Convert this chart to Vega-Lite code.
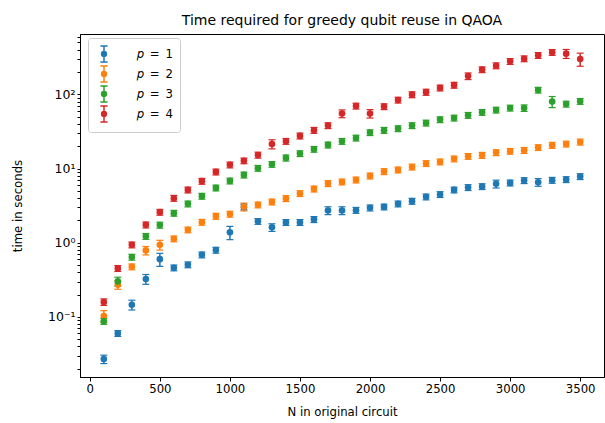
{
"$schema":"https://vega.github.io/schema/vega-lite/v6.json",
"width":524,"height":343,
"autosize":{"type":"none"},
"padding":{"left":80,"top":34,"right":1,"bottom":46},
"title":{"text":"Time required for greedy qubit reuse in QAOA","fontSize":14,"font":"DejaVu Sans","fontWeight":"normal","offset":6,"color":"black"},
"config":{"view":{"stroke":"black","strokeWidth":1},
"axis":{"domainColor":"black","tickColor":"black","labelColor":"black","titleColor":"black","labelFont":"DejaVu Sans","titleFont":"DejaVu Sans","labelFontSize":11.7,"titleFontSize":11.7,"titleFontWeight":"normal","grid":false,"tickSize":4,"tickWidth":1,"domainWidth":1}},
"data":{"values":[
{"N":100,"p":1,"t":0.027,"lo":0.0235,"hi":0.0305},
{"N":200,"p":1,"t":0.060,"lo":0.0546,"hi":0.0654},
{"N":300,"p":1,"t":0.146,"lo":0.124,"hi":0.168},
{"N":400,"p":1,"t":0.324,"lo":0.275,"hi":0.373},
{"N":500,"p":1,"t":0.60,"lo":0.48,"hi":0.72},
{"N":600,"p":1,"t":0.459,"lo":0.418,"hi":0.500},
{"N":700,"p":1,"t":0.505,"lo":0.460,"hi":0.550},
{"N":800,"p":1,"t":0.687,"lo":0.625,"hi":0.749},
{"N":900,"p":1,"t":0.795,"lo":0.723,"hi":0.867},
{"N":1000,"p":1,"t":1.38,"lo":1.10,"hi":1.66},
{"N":1100,"p":1,"t":3.04,"lo":2.77,"hi":3.31},
{"N":1200,"p":1,"t":1.94,"lo":1.77,"hi":2.11},
{"N":1300,"p":1,"t":1.61,"lo":1.42,"hi":1.80},
{"N":1400,"p":1,"t":1.88,"lo":1.71,"hi":2.05},
{"N":1500,"p":1,"t":1.88,"lo":1.71,"hi":2.05},
{"N":1600,"p":1,"t":2.06,"lo":1.87,"hi":2.25},
{"N":1700,"p":1,"t":2.72,"lo":2.39,"hi":3.05},
{"N":1800,"p":1,"t":2.72,"lo":2.39,"hi":3.05},
{"N":1900,"p":1,"t":2.74,"lo":2.49,"hi":2.99},
{"N":2000,"p":1,"t":2.95,"lo":2.68,"hi":3.22},
{"N":2100,"p":1,"t":3.04,"lo":2.77,"hi":3.31},
{"N":2200,"p":1,"t":3.34,"lo":3.04,"hi":3.64},
{"N":2300,"p":1,"t":3.63,"lo":3.30,"hi":3.96},
{"N":2400,"p":1,"t":4.15,"lo":3.78,"hi":4.52},
{"N":2500,"p":1,"t":4.47,"lo":4.07,"hi":4.87},
{"N":2600,"p":1,"t":5.15,"lo":4.69,"hi":5.61},
{"N":2700,"p":1,"t":5.55,"lo":5.05,"hi":6.05},
{"N":2800,"p":1,"t":5.72,"lo":5.21,"hi":6.23},
{"N":2900,"p":1,"t":6.21,"lo":5.46,"hi":6.96},
{"N":3000,"p":1,"t":6.40,"lo":5.82,"hi":6.98},
{"N":3100,"p":1,"t":6.89,"lo":6.27,"hi":7.51},
{"N":3200,"p":1,"t":6.54,"lo":5.76,"hi":7.32},
{"N":3300,"p":1,"t":6.96,"lo":6.33,"hi":7.59},
{"N":3400,"p":1,"t":7.11,"lo":6.47,"hi":7.75},
{"N":3500,"p":1,"t":7.80,"lo":7.10,"hi":8.50},
{"N":100,"p":2,"t":0.103,"lo":0.0845,"hi":0.1215},
{"N":200,"p":2,"t":0.271,"lo":0.236,"hi":0.306},
{"N":300,"p":2,"t":0.474,"lo":0.431,"hi":0.517},
{"N":400,"p":2,"t":0.787,"lo":0.685,"hi":0.889},
{"N":500,"p":2,"t":0.937,"lo":0.796,"hi":1.078},
{"N":600,"p":2,"t":1.13,"lo":1.03,"hi":1.23},
{"N":700,"p":2,"t":1.49,"lo":1.36,"hi":1.62},
{"N":800,"p":2,"t":1.89,"lo":1.72,"hi":2.06},
{"N":900,"p":2,"t":2.28,"lo":2.07,"hi":2.49},
{"N":1000,"p":2,"t":2.43,"lo":2.21,"hi":2.65},
{"N":1100,"p":2,"t":3.05,"lo":2.68,"hi":3.42},
{"N":1200,"p":2,"t":3.24,"lo":2.95,"hi":3.53},
{"N":1300,"p":2,"t":3.55,"lo":3.23,"hi":3.87},
{"N":1400,"p":2,"t":3.95,"lo":3.59,"hi":4.31},
{"N":1500,"p":2,"t":4.61,"lo":4.20,"hi":5.02},
{"N":1600,"p":2,"t":5.31,"lo":4.83,"hi":5.79},
{"N":1700,"p":2,"t":6.28,"lo":5.71,"hi":6.85},
{"N":1800,"p":2,"t":6.60,"lo":6.01,"hi":7.19},
{"N":1900,"p":2,"t":7.02,"lo":6.39,"hi":7.65},
{"N":2000,"p":2,"t":7.95,"lo":7.23,"hi":8.67},
{"N":2100,"p":2,"t":9.11,"lo":8.29,"hi":9.93},
{"N":2200,"p":2,"t":9.58,"lo":8.72,"hi":10.44},
{"N":2300,"p":2,"t":10.5,"lo":9.56,"hi":11.45},
{"N":2400,"p":2,"t":11.7,"lo":10.65,"hi":12.75},
{"N":2500,"p":2,"t":12.3,"lo":11.2,"hi":13.4},
{"N":2600,"p":2,"t":13.5,"lo":12.3,"hi":14.7},
{"N":2700,"p":2,"t":14.6,"lo":13.3,"hi":15.9},
{"N":2800,"p":2,"t":15.1,"lo":13.7,"hi":16.5},
{"N":2900,"p":2,"t":16.4,"lo":14.9,"hi":17.9},
{"N":3000,"p":2,"t":17.1,"lo":15.6,"hi":18.6},
{"N":3100,"p":2,"t":17.6,"lo":16.0,"hi":19.2},
{"N":3200,"p":2,"t":19.2,"lo":17.5,"hi":20.9},
{"N":3300,"p":2,"t":20.6,"lo":18.7,"hi":22.5},
{"N":3400,"p":2,"t":21.4,"lo":19.5,"hi":23.3},
{"N":3500,"p":2,"t":22.8,"lo":20.7,"hi":24.9},
{"N":100,"p":3,"t":0.0873,"lo":0.0794,"hi":0.0952},
{"N":200,"p":3,"t":0.301,"lo":0.259,"hi":0.343},
{"N":300,"p":3,"t":0.640,"lo":0.582,"hi":0.698},
{"N":400,"p":3,"t":1.22,"lo":1.11,"hi":1.33},
{"N":500,"p":3,"t":1.73,"lo":1.57,"hi":1.89},
{"N":600,"p":3,"t":2.50,"lo":2.28,"hi":2.73},
{"N":700,"p":3,"t":3.34,"lo":3.04,"hi":3.64},
{"N":800,"p":3,"t":4.24,"lo":3.86,"hi":4.62},
{"N":900,"p":3,"t":5.48,"lo":4.99,"hi":5.97},
{"N":1000,"p":3,"t":6.81,"lo":6.20,"hi":7.42},
{"N":1100,"p":3,"t":8.20,"lo":7.46,"hi":8.94},
{"N":1200,"p":3,"t":10.1,"lo":9.19,"hi":11.0},
{"N":1300,"p":3,"t":11.4,"lo":10.4,"hi":12.4},
{"N":1400,"p":3,"t":13.9,"lo":12.6,"hi":15.2},
{"N":1500,"p":3,"t":15.9,"lo":14.5,"hi":17.3},
{"N":1600,"p":3,"t":18.2,"lo":16.6,"hi":19.8},
{"N":1700,"p":3,"t":20.8,"lo":18.9,"hi":22.7},
{"N":1800,"p":3,"t":23.3,"lo":21.2,"hi":25.4},
{"N":1900,"p":3,"t":25.8,"lo":23.5,"hi":28.1},
{"N":2000,"p":3,"t":30.5,"lo":27.8,"hi":33.2},
{"N":2100,"p":3,"t":32.8,"lo":29.8,"hi":35.8},
{"N":2200,"p":3,"t":34.5,"lo":31.4,"hi":37.6},
{"N":2300,"p":3,"t":37.9,"lo":34.5,"hi":41.3},
{"N":2400,"p":3,"t":41.1,"lo":37.4,"hi":44.8},
{"N":2500,"p":3,"t":45.6,"lo":41.5,"hi":49.7},
{"N":2600,"p":3,"t":48.0,"lo":43.7,"hi":52.3},
{"N":2700,"p":3,"t":52.2,"lo":47.5,"hi":56.9},
{"N":2800,"p":3,"t":57.2,"lo":52.1,"hi":62.3},
{"N":2900,"p":3,"t":61.5,"lo":56.0,"hi":67.0},
{"N":3000,"p":3,"t":65.4,"lo":59.5,"hi":71.3},
{"N":3100,"p":3,"t":65.4,"lo":58.9,"hi":71.9},
{"N":3200,"p":3,"t":114,"lo":104,"hi":124},
{"N":3300,"p":3,"t":79.8,"lo":66.2,"hi":93.4},
{"N":3400,"p":3,"t":74.0,"lo":67.3,"hi":80.7},
{"N":3500,"p":3,"t":80.5,"lo":73.3,"hi":87.7},
{"N":100,"p":4,"t":0.159,"lo":0.143,"hi":0.175},
{"N":200,"p":4,"t":0.451,"lo":0.410,"hi":0.492},
{"N":300,"p":4,"t":0.937,"lo":0.853,"hi":1.021},
{"N":400,"p":4,"t":1.74,"lo":1.58,"hi":1.90},
{"N":500,"p":4,"t":2.58,"lo":2.35,"hi":2.81},
{"N":600,"p":4,"t":3.98,"lo":3.62,"hi":4.34},
{"N":700,"p":4,"t":5.15,"lo":4.69,"hi":5.61},
{"N":800,"p":4,"t":6.75,"lo":6.14,"hi":7.36},
{"N":900,"p":4,"t":9.00,"lo":8.19,"hi":9.81},
{"N":1000,"p":4,"t":11.2,"lo":10.2,"hi":12.2},
{"N":1100,"p":4,"t":12.7,"lo":11.6,"hi":13.8},
{"N":1200,"p":4,"t":15.2,"lo":13.8,"hi":16.6},
{"N":1300,"p":4,"t":21.4,"lo":18.4,"hi":24.4},
{"N":1400,"p":4,"t":23.3,"lo":21.2,"hi":25.4},
{"N":1500,"p":4,"t":27.5,"lo":25.0,"hi":30.0},
{"N":1600,"p":4,"t":32.8,"lo":29.8,"hi":35.8},
{"N":1700,"p":4,"t":37.9,"lo":34.5,"hi":41.3},
{"N":1800,"p":4,"t":55.0,"lo":48.4,"hi":61.6},
{"N":1900,"p":4,"t":69.6,"lo":63.3,"hi":75.9},
{"N":2000,"p":4,"t":55.0,"lo":47.9,"hi":62.2},
{"N":2100,"p":4,"t":68.3,"lo":62.2,"hi":74.4},
{"N":2200,"p":4,"t":83.8,"lo":76.3,"hi":91.3},
{"N":2300,"p":4,"t":99,"lo":90,"hi":108},
{"N":2400,"p":4,"t":107,"lo":97,"hi":117},
{"N":2500,"p":4,"t":122,"lo":111,"hi":133},
{"N":2600,"p":4,"t":133,"lo":121,"hi":145},
{"N":2700,"p":4,"t":176,"lo":158,"hi":194},
{"N":2800,"p":4,"t":215,"lo":196,"hi":234},
{"N":2900,"p":4,"t":243,"lo":221,"hi":265},
{"N":3000,"p":4,"t":278,"lo":253,"hi":303},
{"N":3100,"p":4,"t":302,"lo":275,"hi":329},
{"N":3200,"p":4,"t":335,"lo":305,"hi":365},
{"N":3300,"p":4,"t":368,"lo":335,"hi":401},
{"N":3400,"p":4,"t":353,"lo":304,"hi":402},
{"N":3500,"p":4,"t":299,"lo":239,"hi":359}
]},
"encoding":{
"x":{"field":"N","type":"quantitative","title":"N in original circuit","scale":{"domain":[-70,3670],"nice":false,"zero":false},"axis":{"values":[0,500,1000,1500,2000,2500,3000,3500],"format":"d","labelPadding":2,"titlePadding":12}}
},
"layer":[
{"mark":{"type":"rule","strokeWidth":1.5},
"encoding":{
"y":{"field":"lo","type":"quantitative","title":"time in seconds","scale":{"type":"log","domain":[0.0155,650],"nice":false},
"axis":{"values":[0.02,0.03,0.04,0.05,0.06,0.07,0.08,0.09,0.1,0.2,0.3,0.4,0.5,0.6,0.7,0.8,0.9,1,2,3,4,5,6,7,8,9,10,20,30,40,50,60,70,80,90,100,200,300,400,500,600],
"labelExpr":"datum.value==100?'10²':datum.value==10?'10¹':datum.value==1?'10⁰':datum.value==0.1?'10⁻¹':''",
"tickSize":3,"labelPadding":2,"titlePadding":24,"labelFontSize":12.5}},
"y2":{"field":"hi"},
"color":{"field":"p","type":"nominal","scale":{"domain":[1,2,3,4],"range":["#1f77b4","#ff7f0e","#2ca02c","#d62728"]}}}},
{"mark":{"type":"tick","orient":"horizontal","size":7,"thickness":1.2,"opacity":1},
"encoding":{"y":{"field":"lo","type":"quantitative","title":"time in seconds"},"color":{"field":"p","type":"nominal"}}},
{"mark":{"type":"tick","orient":"horizontal","size":7,"thickness":1.2,"opacity":1},
"encoding":{"y":{"field":"hi","type":"quantitative","title":"time in seconds"},"color":{"field":"p","type":"nominal"}}},
{"mark":{"type":"point","filled":true,"size":44,"opacity":1},
"encoding":{"y":{"field":"t","type":"quantitative","title":"time in seconds"},
"color":{"field":"p","type":"nominal","legend":{"orient":"none","legendX":8,"legendY":4,"title":null,
"symbolType":"M-0.45,-1H0.45M0,-1V1M-0.45,1H0.45M0.3,0A0.3,0.3,0,1,1,-0.3,0A0.3,0.3,0,1,1,0.3,0Z",
"symbolSize":256,"symbolStrokeWidth":1.5,"symbolOpacity":1,"labelFontSize":11.7,"labelFont":"DejaVu Sans","labelColor":"black",
"rowPadding":-2,"padding":7,"strokeColor":"#cccccc","fillColor":"rgba(255,255,255,0.8)","cornerRadius":3,"labelOffset":24,
"labelExpr":"'𝑝\u2002=\u2002' + datum.label",
"encode":{"symbols":{"update":{"stroke":{"scale":"color","field":"value"},"fill":{"scale":"color","field":"value"}}}}}}}}
]
}
